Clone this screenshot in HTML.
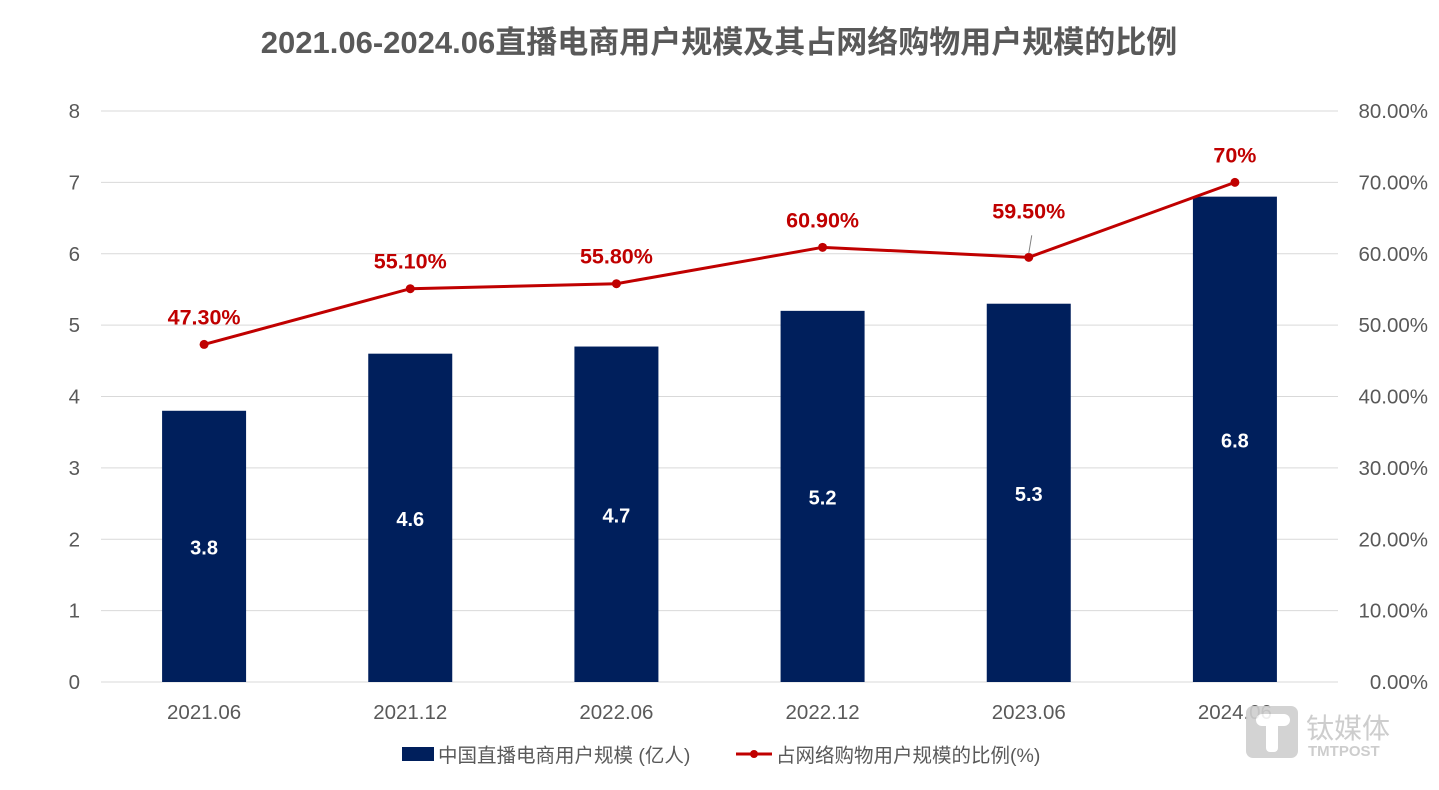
<!DOCTYPE html>
<html><head><meta charset="utf-8"><style>
body{margin:0;background:#fff;width:1439px;height:785px;overflow:hidden;font-family:"Liberation Sans","Noto Sans CJK SC",sans-serif;}
</style></head><body>
<svg id="c" width="1439" height="785" xmlns="http://www.w3.org/2000/svg">
<text x="719" y="53" text-anchor="middle" font-size="31" font-weight="bold" fill="#595959" font-family="Liberation Sans, Noto Sans CJK SC, sans-serif">2021.06-2024.06直播电商用户规模及其占网络购物用户规模的比例</text>
<g id="grid"></g><g id="bars"></g><g id="line"></g><g id="labels"></g>
<g font-size="19.5" fill="#595959" font-family="Liberation Sans, Noto Sans CJK SC, sans-serif">
<rect x="402" y="747" width="32" height="14" fill="#001f5c"/>
<text x="438" y="762">中国直播电商用户规模 (亿人)</text>
<line x1="736" y1="754" x2="772" y2="754" stroke="#c00000" stroke-width="3"/>
<circle cx="754" cy="754" r="4" fill="#c00000"/>
<text x="776" y="762">占网络购物用户规模的比例(%)</text>
</g>
<g opacity="0.9">
<rect x="1246" y="706" width="52" height="52" rx="7" fill="#cfcfcf"/>
<rect x="1256" y="714" width="34" height="12" rx="6" fill="#fff"/>
<rect x="1266" y="720" width="12" height="32" rx="4" fill="#fff"/>
<text x="1306" y="738" font-size="28" fill="#c8c8c8" font-family="Noto Sans CJK SC, sans-serif">钛媒体</text>
<text x="1308" y="756" font-size="15" font-weight="bold" fill="#c8c8c8">TMTPOST</text>
</g>
</svg>
<script>
const categories=["2021.06","2021.12","2022.06","2022.12","2023.06","2024.06"];
const users=[3.8,4.6,4.7,5.2,5.3,6.8];
const ratio=[47.3,55.1,55.8,60.9,59.5,70];
const ratioLabels=["47.30%","55.10%","55.80%","60.90%","59.50%","70%"];
const leftTicks=[0,1,2,3,4,5,6,7,8];
const rightTicks=["0.00%","10.00%","20.00%","30.00%","40.00%","50.00%","60.00%","70.00%","80.00%"];
const NS="http://www.w3.org/2000/svg";
const x0=101,x1=1338,yb=682,yt=111;
const step=(x1-x0)/categories.length;
const xc=i=>x0+step*(i+0.5);
const yL=v=>yb-(v/8)*(yb-yt);
const yR=v=>yb-(v/80)*(yb-yt);
function mk(tag,attrs,parent,txt){const e=document.createElementNS(NS,tag);for(const k in attrs)e.setAttribute(k,attrs[k]);if(txt!==undefined)e.textContent=txt;parent.appendChild(e);return e;}
const g=document.getElementById('grid'),b=document.getElementById('bars'),l=document.getElementById('line'),lb=document.getElementById('labels');
leftTicks.forEach((t,i)=>{
 const y=yL(t);
 const ln=mk('line',{x1:x0,x2:x1,y1:y,y2:y,stroke:'#d9d9d9','stroke-width':1},g);
 
 
 const tl=mk('text',{x:80,y:y+7,'text-anchor':'end','font-size':20.5,fill:'#595959'},g,String(t));
 
 
 const tr=mk('text',{x:1428,y:y+7,'text-anchor':'end','font-size':20.5,fill:'#595959'},g,rightTicks[i]);
 
 
});
const bw=84;
categories.forEach((c,i)=>{
 const x=xc(i),y=yL(users[i]);
 const r=mk('rect',{x:x-bw/2,y:y,width:bw,height:yb-y,fill:'#001f5c'},b);
 
 
 const bt=mk('text',{x:x,y:(y+yb)/2+8,'text-anchor':'middle','font-size':20,'font-weight':'bold',fill:'#fff'},lb,users[i].toFixed(1));
 
 
 const xt=mk('text',{x:x,y:719,'text-anchor':'middle','font-size':20.5,fill:'#595959'},g,c);
 
 
});
const pts=ratio.map((v,i)=>xc(i)+','+yR(v)).join(' ');
const pl=mk('polyline',{points:pts,fill:'none',stroke:'#c00000','stroke-width':3},l);


ratio.forEach((v,i)=>{
 const x=xc(i),y=yR(v);
 const p=mk('circle',{cx:x,cy:y,r:4.5,fill:'#c00000'},l);
 
 
 const off=(i===4)?39:20;
 if(i===4){mk('line',{x1:x+3,y1:y-22,x2:x,y2:y-4,stroke:'#808080','stroke-width':1},l);}
 const t=mk('text',{x:x,y:y-off,'text-anchor':'middle','font-size':21.5,'font-weight':'bold',fill:'#c00000'},lb,ratioLabels[i]);
 
 
});
</script>
</body></html>
